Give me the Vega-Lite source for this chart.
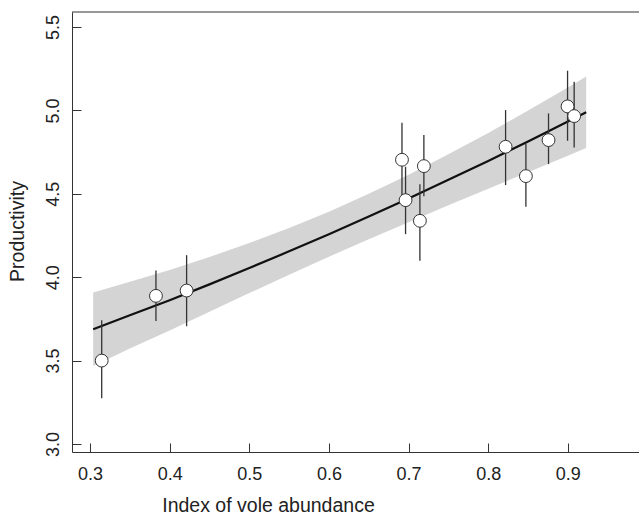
{
  "$schema": "https://vega.github.io/schema/vega-lite/v6.json",
  "autosize": {"type": "none"},
  "width": 567,
  "height": 440,
  "padding": {"left": 72, "top": 12, "right": 0, "bottom": 64},
  "background": "white",
  "config": {
    "view": {"stroke": null},
    "font": "Liberation Sans",
    "axis": {
      "grid": false,
      "domainColor": "#333",
      "domainWidth": 1,
      "tickColor": "#333",
      "tickWidth": 1,
      "tickSize": -9,
      "labelFont": "Liberation Sans",
      "labelFontSize": 18,
      "labelColor": "#222",
      "titleFont": "Liberation Sans",
      "titleFontSize": 19.5,
      "titleFontWeight": "normal",
      "titleColor": "#222"
    }
  },
  "datasets": {
    "fit": [
      {"x": 0.304, "fit": 3.688, "lower": 3.468, "upper": 3.908},
      {"x": 0.35, "fit": 3.772, "lower": 3.572, "upper": 3.972},
      {"x": 0.40, "fit": 3.862, "lower": 3.681, "upper": 4.043},
      {"x": 0.45, "fit": 3.957, "lower": 3.793, "upper": 4.121},
      {"x": 0.50, "fit": 4.055, "lower": 3.905, "upper": 4.205},
      {"x": 0.55, "fit": 4.155, "lower": 4.015, "upper": 4.295},
      {"x": 0.60, "fit": 4.258, "lower": 4.123, "upper": 4.393},
      {"x": 0.65, "fit": 4.364, "lower": 4.228, "upper": 4.500},
      {"x": 0.70, "fit": 4.472, "lower": 4.330, "upper": 4.614},
      {"x": 0.75, "fit": 4.584, "lower": 4.431, "upper": 4.737},
      {"x": 0.80, "fit": 4.697, "lower": 4.530, "upper": 4.864},
      {"x": 0.85, "fit": 4.814, "lower": 4.629, "upper": 4.999},
      {"x": 0.90, "fit": 4.933, "lower": 4.728, "upper": 5.138},
      {"x": 0.923, "fit": 4.989, "lower": 4.775, "upper": 5.203}
    ],
    "pts": [
      {"x": 0.3147, "y": 3.50, "lo": 3.274, "hi": 3.742},
      {"x": 0.3828, "y": 3.888, "lo": 3.738, "hi": 4.040},
      {"x": 0.4213, "y": 3.920, "lo": 3.706, "hi": 4.132},
      {"x": 0.6917, "y": 4.704, "lo": 4.486, "hi": 4.926},
      {"x": 0.6962, "y": 4.462, "lo": 4.258, "hi": 4.662},
      {"x": 0.7192, "y": 4.666, "lo": 4.486, "hi": 4.852},
      {"x": 0.7142, "y": 4.338, "lo": 4.098, "hi": 4.558},
      {"x": 0.8218, "y": 4.782, "lo": 4.552, "hi": 5.002},
      {"x": 0.8473, "y": 4.606, "lo": 4.422, "hi": 4.802},
      {"x": 0.8757, "y": 4.822, "lo": 4.678, "hi": 4.982},
      {"x": 0.8996, "y": 5.024, "lo": 4.818, "hi": 5.238},
      {"x": 0.9079, "y": 4.966, "lo": 4.778, "hi": 5.172}
    ]
  },
  "encoding": {
    "x": {
      "type": "quantitative",
      "scale": {"domain": [0.2774, 0.9893], "nice": false, "zero": false},
      "axis": {
        "title": "Index of vole abundance",
        "values": [0.3, 0.4, 0.5, 0.6, 0.7, 0.8, 0.9],
        "format": ".1f",
        "labelPadding": 22,
        "labelBaseline": "top",
        "titleX": 196,
        "titleY": 44,
        "titleAlign": "center",
        "titleBaseline": "top"
      }
    },
    "y": {
      "type": "quantitative",
      "scale": {"domain": [2.952, 5.59], "nice": false, "zero": false},
      "axis": {
        "title": "Productivity",
        "values": [3.0, 3.5, 4.0, 4.5, 5.0, 5.5],
        "format": ".1f",
        "labelAngle": 270,
        "labelAlign": "center",
        "labelBaseline": "bottom",
        "labelPadding": 19,
        "titleX": -45,
        "titleY": 219,
        "titleAngle": 270,
        "titleAlign": "center",
        "titleBaseline": "bottom"
      }
    }
  },
  "layer": [
    {
      "data": {"name": "fit"},
      "mark": {"type": "area", "color": "#d4d4d4", "opacity": 1},
      "encoding": {
        "x": {"field": "x"},
        "y": {"field": "lower"},
        "y2": {"field": "upper"}
      }
    },
    {
      "data": {"name": "fit"},
      "mark": {"type": "line", "color": "#111", "strokeWidth": 2.2},
      "encoding": {
        "x": {"field": "x"},
        "y": {"field": "fit"}
      }
    },
    {
      "data": {"name": "pts"},
      "mark": {"type": "rule", "color": "#333", "strokeWidth": 1.3},
      "encoding": {
        "x": {"field": "x"},
        "y": {"field": "lo"},
        "y2": {"field": "hi"}
      }
    },
    {
      "data": {"name": "pts"},
      "mark": {"type": "point", "filled": true, "fill": "white", "stroke": "#333", "strokeWidth": 1, "size": 165, "opacity": 1},
      "encoding": {
        "x": {"field": "x"},
        "y": {"field": "y"}
      }
    },
    {
      "data": {"values": [{}]},
      "mark": {"type": "rule", "color": "#333", "strokeWidth": 1},
      "encoding": {
        "y": {"datum": 5.59}
      }
    }
  ]
}
